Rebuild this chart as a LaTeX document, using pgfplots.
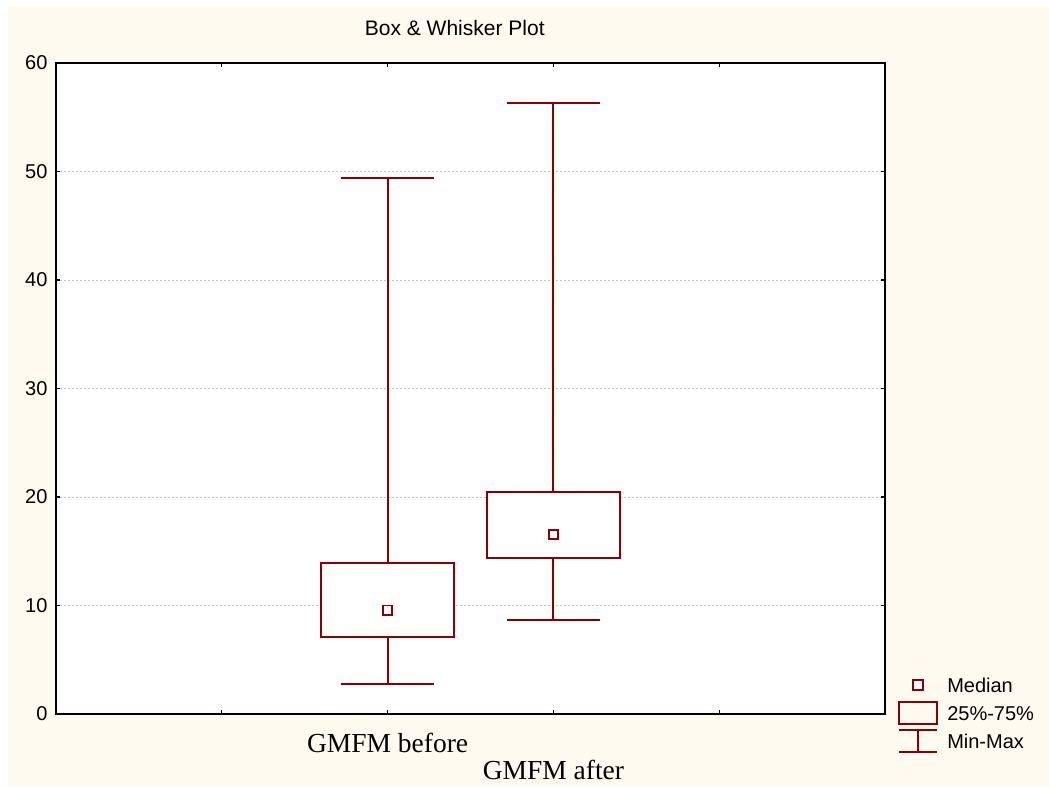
\documentclass[border=0pt]{standalone}
\usepackage{fontspec}
\setmainfont{Liberation Sans}
\newfontfamily\timesfont{Liberation Serif}
\usepackage{pgfplots}
\pgfplotsset{compat=1.18}
\usepgfplotslibrary{statistics}
\definecolor{darkred}{HTML}{8B0000}
\definecolor{cream}{HTML}{FFFAF0}
\begin{document}
\begin{tikzpicture}
\fill[white] (0pt,0pt) rectangle (1049pt,787pt);
\fill[cream] (8pt,0pt) rectangle (1049pt,781pt);
\begin{axis}[
  at={(56pt,73pt)}, anchor=south west,
  width=829pt, height=651pt, scale only axis,
  xmin=0, xmax=5, ymin=0, ymax=60,
  xtick={1,2,3,4},
  xticklabels={,GMFM before,{\raisebox{-27pt}[\height][\depth]{GMFM after}},},
  ytick={0,10,20,30,40,50,60},
  tick align=inside,
  major tick length=4pt,
  tick style={black, line width=1.2pt},
  axis line style={black, line width=1.6pt},
  axis background/.style={fill=white},
  ymajorgrids,
  grid style={gray!45, line width=0.8pt, dash pattern=on 2pt off 2pt},
  /pgf/number format/assume math mode=true,
  yticklabel style={font=\fontsize{20}{24}\selectfont, xshift=-5pt},
  xticklabel style={font=\timesfont\fontsize{27.5}{30}\selectfont, anchor=base, yshift=-38.7pt},
  title={Box \& Whisker Plot},
  title style={font=\fontsize{21}{25}\selectfont, at={(0.481,1)}, anchor=base, yshift=21.3pt},
  boxplot/draw direction=y,
  boxplot/draw/median/.code={},
  boxplot/every box/.style={draw=darkred, line width=1.8pt, fill=white, solid},
  boxplot/every whisker/.style={draw=darkred, line width=2pt, solid},
  legend style={at={(1.016,0.063)}, anchor=north west, draw=none, fill=none,
    inner sep=0pt, font=\fontsize{20}{24}\selectfont, row sep=4pt,
    cells={anchor=west},
    nodes={text height=19pt, text depth=5pt, inner ysep=0pt, inner xsep=0pt},
    /tikz/every odd column/.append style={column sep=9pt}},
]
\addplot[boxplot prepared={draw position=2, median=9.58, lower quartile=7.07, upper quartile=13.89, lower whisker=2.76, upper whisker=49.37, box extend=0.8, whisker extend=0.56},
  draw=darkred, line width=1.8pt, mark=none, solid, fill=white, forget plot] coordinates {};
\addplot[boxplot prepared={draw position=3, median=16.56, lower quartile=14.35, upper quartile=20.46, lower whisker=8.66, upper whisker=56.34, box extend=0.8, whisker extend=0.56},
  draw=darkred, line width=1.8pt, mark=none, solid, fill=white, forget plot] coordinates {};
\addplot[only marks, mark=square*, mark size=4.6pt, draw=darkred, fill=white, mark options={line width=1.8pt, solid, draw=darkred, fill=white}, forget plot] coordinates {(2,9.58) (3,16.56)};
\addlegendimage{legend image code/.code={\draw[darkred, line width=1.8pt, fill=white] (14pt,-5pt) rectangle (24pt,5pt); \path[draw=none, fill=none, use as bounding box] (0pt,-11pt) rectangle (38pt,11pt);}}
\addlegendentry{Median}
\addlegendimage{legend image code/.code={\draw[darkred, line width=1.8pt] (0pt,-11pt) rectangle (38pt,11pt);}}
\addlegendentry{25\%-75\%}
\addlegendimage{legend image code/.code={\draw[darkred, line width=1.8pt] (0pt,11pt) -- (38pt,11pt) (0pt,-11pt) -- (38pt,-11pt) (19pt,11pt) -- (19pt,-11pt);}}
\addlegendentry{Min-Max}
\end{axis}
\pgfresetboundingbox
\useasboundingbox (0pt,0pt) rectangle (1049pt,787pt);
\end{tikzpicture}
\end{document}
